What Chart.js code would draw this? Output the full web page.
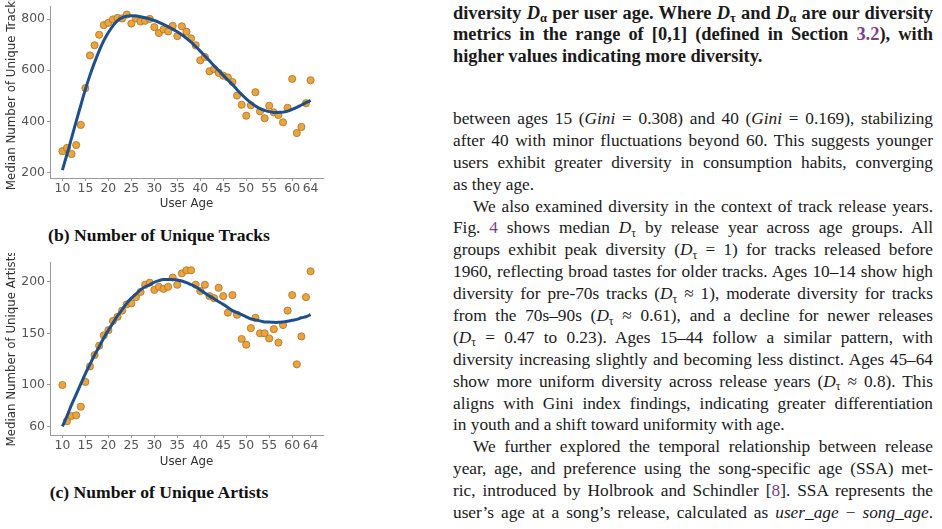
<!DOCTYPE html>
<html>
<head>
<meta charset="utf-8">
<script src="https://cdn.jsdelivr.net/npm/chart.js@4"></script>
<style>
  body { margin: 0; width: 942px; height: 529px; background: #fff; position: relative; overflow: hidden; }
  canvas { position: absolute; left: 0; }
  .cap { position: absolute; font-family: "Liberation Serif", "DejaVu Serif", serif; font-weight: bold; font-size: 17.6px; color: #111; text-align: center; width: 330px; left: -6px; }
  .col { position: absolute; left: 453px; width: 480px; font-family: "Liberation Serif", "DejaVu Serif", serif; font-size: 17.3px; color: #1a1a1a; }
  .col div { height: 21.9px; line-height: 21.9px; white-space: nowrap; text-align: justify; text-align-last: justify; }
  .col div.last { text-align-last: left; }
  .col div.ind { padding-left: 20px; }
  .bold { font-weight: bold; font-size: 18.4px; }
  .ref { color: #7d3c8c; }
  sub { font-size: 0.68em; vertical-align: baseline; position: relative; top: 0.3em; }
  i { font-style: italic; }
</style>
</head>
<body>
<canvas id="tracksChart" width="330" height="212" style="top:0px"></canvas>
<div class="cap" style="top:225px">(b) Number of Unique Tracks</div>
<canvas id="artistsChart" width="330" height="217" style="top:253px"></canvas>
<div class="cap" style="top:482px">(c) Number of Unique Artists</div>

<div class="col bold" style="top:2.5px">
  <div>diversity <i>D</i><sub>α</sub> per user age. Where <i>D</i><sub>τ</sub> and <i>D</i><sub>α</sub> are our diversity</div>
  <div>metrics in the range of [0,1] (defined in Section <span class="ref">3.2</span>), with</div>
  <div class="last">higher values indicating more diversity.</div>
</div>

<div class="col" style="top:108px">
  <div>between ages 15 (<i>Gini</i> = 0.308) and 40 (<i>Gini</i> = 0.169), stabilizing</div>
  <div>after 40 with minor fluctuations beyond 60. This suggests younger</div>
  <div>users exhibit greater diversity in consumption habits, converging</div>
  <div class="last">as they age.</div>
  <div class="ind">We also examined diversity in the context of track release years.</div>
  <div>Fig. <span class="ref">4</span> shows median <i>D</i><sub>τ</sub> by release year across age groups. All</div>
  <div>groups exhibit peak diversity (<i>D</i><sub>τ</sub> = 1) for tracks released before</div>
  <div>1960, reflecting broad tastes for older tracks. Ages 10–14 show high</div>
  <div>diversity for pre-70s tracks (<i>D</i><sub>τ</sub> ≈ 1), moderate diversity for tracks</div>
  <div>from the 70s–90s (<i>D</i><sub>τ</sub> ≈ 0.61), and a decline for newer releases</div>
  <div>(<i>D</i><sub>τ</sub> = 0.47 to 0.23). Ages 15–44 follow a similar pattern, with</div>
  <div>diversity increasing slightly and becoming less distinct. Ages 45–64</div>
  <div>show more uniform diversity across release years (<i>D</i><sub>τ</sub> ≈ 0.8). This</div>
  <div>aligns with Gini index findings, indicating greater differentiation</div>
  <div class="last">in youth and a shift toward uniformity with age.</div>
  <div class="ind">We further explored the temporal relationship between release</div>
  <div>year, age, and preference using the song-specific age (SSA) met-</div>
  <div>ric, introduced by Holbrook and Schindler [<span class="ref">8</span>]. SSA represents the</div>
  <div>user’s age at a song’s release, calculated as <i>user_age</i> − <i>song_age</i>.</div>
</div>

<script>
// user ages 10..64
const ages = [10,11,12,13,14,15,16,17,18,19,20,21,22,23,24,25,26,27,28,29,30,31,32,33,34,35,36,37,
  38,39,40,41,42,43,44,45,46,47,48,49,50,51,52,53,54,55,56,57,58,59,60,61,62,63,64];

const tracksMedian = [283,296,272,307,386,530,658,698,739,777,786,799,805,803,818,783,803,791,794,801,
  769,746,760,752,774,734,772,751,725,698,639,652,596,605,590,579,572,554,501,465,
  422,463,514,439,412,461,435,425,396,453,566,354,378,471,561];
const tracksFit = [209,271,335,400,463,525,581,631,676,716,748,774,794,806,812,814,813,810,806,801,
  795,788,780,771,761,751,739,725,710,693,675,656,637,618,599,580,562,544,524,505,
  488,473,460,450,443,438,435,435,436,440,447,455,464,473,482];

const artistsMedian = [100,65,70,70.6,79,103,118,129,138,148,153,162,166,172,178,179,185,190,197,199,
  192,195,193,195,204,197,208,211,211,197,191,197,186,184,194,186,170,187,168,144.5,
  139,155,165,150,150,145,154,141,158,172,187,120,147,185,210];
const artistsFit = [60,70,81,91,101,111,120,129,137,145.5,153,160,167,173,179,184,188,192,195,197,
  199.4,201,202,202,202,201.6,200.6,199,197,195,192,189,186,183.5,180.6,178,175,172,170,168,
  166,164,163,162,161,161,160.6,160.6,161,161.6,162.6,163.5,165,166,168];

const xTickValues = [10,15,20,25,30,35,40,45,50,55,60,64];
const tracksYTicks = [200,400,600,800];
const artistsYTicks = [60,100,150,200];

const FONT = 'DejaVu Sans';

function makeChart(id, fit, median, yTicks, yMin, yMax, yTitle, padTop, xAxisH) {
    const ctx = document.getElementById(id).getContext('2d');
    return new Chart(ctx, {
        type: 'scatter',
        data: {
            datasets: [
                {
                    type: 'line',
                    data: ages.map((a, i) => ({ x: a, y: fit[i] })),
                    borderColor: '#1d4f8c',
                    borderWidth: 3,
                    pointRadius: 0,
                    tension: 0.4,
                    fill: false
                },
                {
                    data: ages.map((a, i) => ({ x: a, y: median[i] })),
                    backgroundColor: '#eba33a',
                    borderColor: '#a8742c',
                    borderWidth: 0.8,
                    pointRadius: 3.6
                }
            ]
        },
        options: {
            responsive: false,
            animation: false,
            layout: { padding: { top: padTop, right: 7, left: 0, bottom: 0 } },
            plugins: { legend: { display: false }, tooltip: { enabled: false } },
            scales: {
                x: {
                    type: 'linear',
                    min: 7.3,
                    max: 66.7,
                    afterBuildTicks: s => { s.ticks = xTickValues.map(v => ({ value: v })); },
                    afterFit: s => { s.height = xAxisH; },
                    grid: { display: true, drawOnChartArea: false, drawTicks: true, tickLength: 3, color: '#999' },
                    border: { display: true, color: '#999', width: 1 },
                    ticks: { padding: 0, color: '#555', font: { family: FONT, size: 12.4 }, maxRotation: 0, autoSkip: false },
                    title: { display: true, text: 'User Age', color: '#333', font: { family: FONT, size: 11.8 }, padding: { top: 0, bottom: 1 } }
                },
                y: {
                    min: yMin,
                    max: yMax,
                    afterBuildTicks: s => { s.ticks = yTicks.map(v => ({ value: v })); },
                    afterFit: s => { s.width = 50; },
                    grid: { display: true, drawOnChartArea: false, drawTicks: true, tickLength: 3, color: '#999' },
                    border: { display: true, color: '#999', width: 1 },
                    ticks: { padding: 2, color: '#555', font: { family: FONT, size: 12.4, lineHeight: 0.8 } },
                    title: { display: true, text: yTitle, color: '#333', font: { family: FONT, size: 11.8 }, padding: { top: 5, bottom: 0 } }
                }
            }
        }
    });
}

makeChart('tracksChart', tracksFit, tracksMedian, tracksYTicks, 178, 848, 'Median Number of Unique Tracks', 5, 34);
makeChart('artistsChart', artistsFit, artistsMedian, artistsYTicks, 51.6, 219, 'Median Number of Unique Artists', 9, 35);
</script>
</body>
</html>
